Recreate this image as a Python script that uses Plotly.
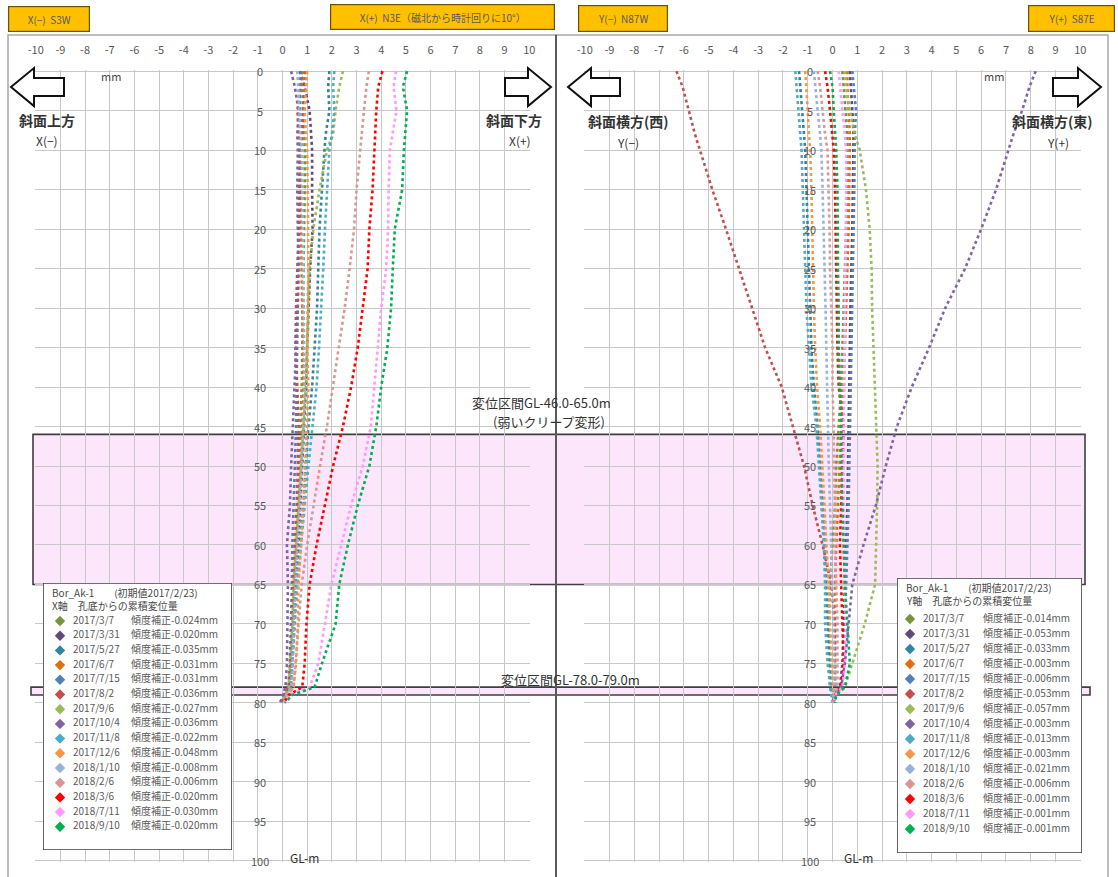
import plotly.graph_objects as go

W, H = 1118, 877

# ---------------- data ----------------
DEPTH = [0, 2, 5, 8, 10, 15, 20, 25, 30, 35, 40, 45, 50, 55, 60, 65, 70, 75, 78, 79, 80]
DEPTH_TICKS = list(range(0, 101, 5))
X_TICKS = list(range(-10, 11))
X_TICK_LABELS = [str(v) for v in X_TICKS]

DATES = ["2017/3/7", "2017/3/31", "2017/5/27", "2017/6/7", "2017/7/15", "2017/8/2",
         "2017/9/6", "2017/10/4", "2017/11/8", "2017/12/6", "2018/1/10", "2018/2/6",
         "2018/3/6", "2018/7/11", "2018/9/10"]
COLORS = ["#77933C", "#604A7B", "#31859C", "#E46C0A", "#4F81BD", "#C0504D",
          "#9BBB59", "#8064A2", "#4BACC6", "#F79646", "#95B3D7", "#D99694",
          "#FF0000", "#FF99FF", "#00B050"]
X_CORR = ["-0.024", "-0.020", "-0.035", "-0.031", "-0.031", "-0.036", "-0.027", "-0.036",
          "-0.022", "-0.048", "-0.008", "-0.006", "-0.020", "-0.030", "-0.020"]
Y_CORR = ["-0.014", "-0.053", "-0.033", "-0.003", "-0.006", "-0.053", "-0.057", "-0.003",
          "-0.013", "-0.003", "-0.021", "-0.006", "-0.001", "-0.001", "-0.001"]

# X axis (slope direction) cumulative displacement, mm
x_170307 = [0.80, 0.80, 0.85, 0.88, 0.90, 0.90, 0.88, 0.85, 0.82, 0.80, 0.78, 0.72, 0.65, 0.60, 0.52, 0.45, 0.42, 0.35, 0.30, 0.10, 0.00]
x_170331 = [0.70, 0.90, 1.10, 1.15, 1.20, 1.20, 1.22, 1.12, 1.05, 1.00, 0.95, 0.88, 0.80, 0.72, 0.62, 0.52, 0.45, 0.38, 0.30, 0.10, 0.00]
x_170527 = [1.90, 1.85, 1.90, 1.75, 1.70, 1.60, 1.50, 1.45, 1.40, 1.30, 1.20, 1.05, 0.95, 0.85, 0.70, 0.55, 0.45, 0.35, 0.30, 0.15, 0.05]
x_170607 = [0.90, 0.75, 0.60, 0.65, 0.70, 0.72, 0.75, 0.78, 0.80, 0.82, 0.85, 0.80, 0.72, 0.65, 0.58, 0.50, 0.48, 0.40, 0.35, 0.15, 0.00]
x_170715 = [0.75, 0.70, 0.72, 0.75, 0.70, 0.68, 0.65, 0.62, 0.62, 0.60, 0.58, 0.55, 0.50, 0.45, 0.40, 0.38, 0.35, 0.30, 0.25, 0.10, 0.00]
x_170802 = [0.95, 0.90, 0.85, 0.80, 0.75, 0.72, 0.65, 0.60, 0.55, 0.52, 0.60, 0.65, 0.62, 0.58, 0.50, 0.42, 0.38, 0.32, 0.25, 0.05, -0.05]
x_170906 = [2.45, 2.30, 2.15, 2.05, 1.80, 1.50, 1.25, 1.10, 1.05, 1.00, 0.95, 0.85, 0.75, 0.65, 0.55, 0.45, 0.40, 0.30, 0.25, 0.10, 0.00]
x_171004 = [0.35, 0.50, 0.65, 0.60, 0.62, 0.60, 0.62, 0.65, 0.62, 0.55, 0.48, 0.40, 0.35, 0.30, 0.18, 0.22, 0.20, 0.18, 0.12, 0.00, -0.10]
x_171108 = [2.10, 2.05, 2.10, 2.00, 1.90, 1.80, 1.72, 1.65, 1.58, 1.48, 1.38, 1.20, 1.05, 0.90, 0.75, 0.60, 0.50, 0.40, 0.35, 0.20, 0.05]
x_171206 = [1.00, 0.95, 0.90, 0.95, 1.00, 1.02, 1.05, 1.05, 1.02, 1.00, 1.05, 1.00, 0.92, 0.85, 0.75, 0.65, 0.62, 0.55, 0.45, 0.20, 0.05]
x_180110 = [0.60, 0.62, 0.68, 0.72, 0.78, 0.80, 0.82, 0.85, 0.88, 0.90, 0.90, 0.85, 0.78, 0.70, 0.60, 0.52, 0.45, 0.40, 0.35, 0.15, 0.05]
x_180206 = [3.50, 3.40, 3.30, 3.20, 3.15, 3.00, 2.90, 2.72, 2.52, 2.28, 2.05, 1.80, 1.52, 1.25, 1.00, 0.78, 0.65, 0.55, 0.45, 0.20, 0.05]
x_180306 = [4.05, 3.88, 3.80, 3.75, 3.72, 3.65, 3.52, 3.45, 3.25, 3.05, 2.78, 2.45, 2.05, 1.72, 1.38, 1.10, 0.97, 0.90, 0.80, 0.25, 0.05]
x_180711 = [4.60, 4.50, 4.62, 4.45, 4.35, 4.30, 4.28, 4.20, 4.00, 3.86, 3.72, 3.58, 3.25, 2.78, 2.38, 1.98, 1.72, 1.45, 1.10, 0.30, 0.05]
x_180910 = [5.05, 4.88, 5.05, 4.98, 4.92, 4.85, 4.55, 4.47, 4.40, 4.25, 4.00, 3.80, 3.52, 3.05, 2.65, 2.30, 2.15, 1.60, 1.30, 0.40, 0.10]

# Y axis (transverse direction) cumulative displacement, mm
y_170307 = [0.40, 0.45, 0.55, 0.60, 0.60, 0.60, 0.55, 0.50, 0.45, 0.40, 0.35, 0.25, 0.15, 0.10, 0.00, -0.10, -0.15, -0.10, -0.05, 0.00, 0.00]
y_170331 = [0.70, 0.75, 0.80, 0.85, 0.85, 0.82, 0.80, 0.75, 0.72, 0.70, 0.68, 0.65, 0.62, 0.60, 0.55, 0.50, 0.45, 0.40, 0.30, 0.10, 0.00]
y_170527 = [-1.35, -1.30, -1.20, -1.15, -1.10, -1.05, -1.00, -0.95, -0.90, -0.85, -0.75, -0.60, -0.50, -0.40, -0.30, -0.25, -0.20, -0.15, -0.10, 0.00, 0.00]
y_170607 = [0.60, 0.60, 0.65, 0.70, 0.70, 0.68, 0.65, 0.60, 0.55, 0.50, 0.45, 0.35, 0.28, 0.20, 0.15, 0.10, 0.10, 0.10, 0.10, 0.05, 0.00]
y_170715 = [0.80, 0.85, 0.95, 0.90, 0.90, 0.88, 0.85, 0.82, 0.80, 0.78, 0.75, 0.72, 0.70, 0.65, 0.60, 0.55, 0.50, 0.45, 0.35, 0.10, 0.00]
y_170802 = [-6.30, -6.05, -5.80, -5.55, -5.35, -4.85, -4.30, -3.78, -3.26, -2.72, -2.05, -1.60, -1.15, -0.80, -0.40, -0.05, 0.10, 0.10, 0.10, 0.05, 0.00]
y_170906 = [0.50, 0.55, 0.70, 0.90, 1.10, 1.35, 1.50, 1.58, 1.60, 1.65, 1.70, 1.75, 1.82, 1.80, 1.75, 1.72, 1.30, 0.80, 0.50, 0.15, 0.05]
y_171004 = [8.20, 7.95, 7.65, 7.30, 7.10, 6.60, 6.00, 5.35, 4.55, 3.90, 3.20, 2.60, 2.15, 1.75, 1.25, 0.80, 0.65, 0.50, 0.35, 0.10, 0.00]
y_171108 = [-1.50, -1.45, -1.35, -1.30, -1.25, -1.20, -1.15, -1.10, -1.05, -0.95, -0.85, -0.65, -0.55, -0.45, -0.35, -0.30, -0.30, -0.20, -0.10, -0.05, 0.00]
y_171206 = [-1.10, -1.05, -1.00, -0.95, -0.90, -0.85, -0.82, -0.80, -0.75, -0.70, -0.62, -0.50, -0.40, -0.32, -0.25, -0.15, -0.10, 0.00, 0.05, 0.05, 0.05]
y_180110 = [-0.75, -0.70, -0.60, -0.50, -0.45, -0.40, -0.35, -0.30, -0.28, -0.25, -0.22, -0.20, -0.15, -0.10, -0.05, 0.00, 0.05, 0.10, 0.10, 0.05, 0.00]
y_180206 = [-0.60, -0.50, -0.40, -0.30, -0.20, -0.15, -0.12, -0.10, -0.05, 0.00, 0.00, 0.05, 0.05, 0.10, 0.10, 0.15, 0.20, 0.20, 0.20, 0.10, 0.05]
y_180306 = [-0.30, -0.20, -0.10, 0.00, 0.05, 0.10, 0.12, 0.15, 0.15, 0.20, 0.25, 0.45, 0.40, 0.35, 0.30, 0.35, 0.40, 0.45, 0.35, 0.10, 0.05]
y_180711 = [0.25, 0.30, 0.40, 0.50, 0.55, 0.55, 0.55, 0.52, 0.50, 0.50, 0.48, 0.45, 0.45, 0.42, 0.45, 0.50, 0.55, 0.50, 0.40, 0.10, 0.05]
y_180910 = [-0.10, 0.00, 0.05, 0.10, 0.15, 0.20, 0.20, 0.22, 0.25, 0.25, 0.30, 0.35, 0.35, 0.40, 0.45, 0.50, 0.60, 0.70, 0.50, 0.15, 0.10]

X_VALUES = [x_170307, x_170331, x_170527, x_170607, x_170715, x_170802, x_170906, x_171004,
            x_171108, x_171206, x_180110, x_180206, x_180306, x_180711, x_180910]
Y_VALUES = [y_170307, y_170331, y_170527, y_170607, y_170715, y_170802, y_170906, y_171004,
            y_171108, y_171206, y_180110, y_180206, y_180306, y_180711, y_180910]

ZONE_MAIN = (46.0, 65.0)
ZONE_LOW = (78.0, 79.0)

# ---------------- helpers ----------------
FONT = "Noto Sans CJK JP, Noto Sans, sans-serif"


def px(x):
    return x / W


def py(y):
    return 1 - y / H


fig = go.Figure()

# data traces
for i in range(len(DATES)):
    fig.add_trace(go.Scatter(x=X_VALUES[i], y=DEPTH, mode="lines",
                             line=dict(color=COLORS[i], width=2.6, dash="dot"),
                             xaxis="x", yaxis="y", showlegend=False, hoverinfo="skip"))
    fig.add_trace(go.Scatter(x=Y_VALUES[i], y=DEPTH, mode="lines",
                             line=dict(color=COLORS[i], width=2.6, dash="dot"),
                             xaxis="x2", yaxis="y2", showlegend=False, hoverinfo="skip"))

# custom legends drawn in their own small axes
n = len(DATES)
LEG = [
    dict(ax="x3", ay="y3", w=189, h=267, y0=38, dy=14.7, mx=17, dx=30, cx=88,
         corr=X_CORR, t2="X軸　孔底からの累積変位量"),
    dict(ax="x4", ay="y4", w=185, h=275, y0=41, dy=15.0, mx=13, dx=26, cx=86,
         corr=Y_CORR, t2="Y軸　孔底からの累積変位量"),
]
for L in LEG:
    ys = [L["y0"] + k * L["dy"] for k in range(n)]
    fig.add_trace(go.Scatter(x=[L["mx"]] * n, y=ys, mode="markers",
                             marker=dict(symbol="diamond", size=8, color=COLORS),
                             xaxis=L["ax"], yaxis=L["ay"], showlegend=False, hoverinfo="skip"))
    fig.add_trace(go.Scatter(x=[L["dx"]] * n, y=ys, mode="text", text=DATES,
                             textposition="middle right",
                             textfont=dict(size=10, color="#5a5a5a", family=FONT),
                             xaxis=L["ax"], yaxis=L["ay"], showlegend=False, hoverinfo="skip"))
    fig.add_trace(go.Scatter(x=[L["cx"]] * n, y=ys, mode="text",
                             text=["傾度補正" + c + "mm" for c in L["corr"]],
                             textposition="middle right",
                             textfont=dict(size=10, color="#5a5a5a", family=FONT),
                             xaxis=L["ax"], yaxis=L["ay"], showlegend=False, hoverinfo="skip"))

# ---------------- axes ----------------
GRID = "#C8C8C8"
TICKF = dict(size=11, color="#585858", family=FONT)
ydom = [py(862), py(70)]


def xax(dom, anchor):
    return dict(domain=dom, anchor=anchor, range=[-10.03, 10.03], side="top",
                tickvals=X_TICKS, ticktext=X_TICK_LABELS, showgrid=True, gridcolor=GRID,
                gridwidth=1, zeroline=False, showline=False, ticks="", automargin=False,
                ticklabelstandoff=13, tickfont=TICKF, fixedrange=True)


def yax(anchor):
    return dict(domain=ydom, anchor=anchor, range=[100.15, -0.15], tickvals=DEPTH_TICKS,
                showticklabels=False, showgrid=True, gridcolor=GRID, gridwidth=1,
                automargin=False, zeroline=False, showline=False, ticks="", fixedrange=True)


fig.update_layout(
    width=W, height=H, autosize=False,
    margin=dict(l=0, r=0, t=0, b=0, pad=0, autoexpand=False),
    paper_bgcolor="white", plot_bgcolor="rgba(0,0,0,0)",
    font=dict(family=FONT, color="#333333"),
    showlegend=False,
    xaxis=xax([px(35), px(530)], "y"),
    yaxis=yax("x"),
    xaxis2=xax([px(584), px(1081)], "y2"),
    yaxis2=yax("x2"),
    xaxis3=dict(domain=[px(43), px(232)], anchor="y3", range=[0, 189], visible=False, fixedrange=True),
    yaxis3=dict(domain=[py(850), py(583)], anchor="x3", range=[267, 0], visible=False, fixedrange=True),
    xaxis4=dict(domain=[px(897), px(1082)], anchor="y4", range=[0, 185], visible=False, fixedrange=True),
    yaxis4=dict(domain=[py(853), py(578)], anchor="x4", range=[275, 0], visible=False, fixedrange=True),
)

# ---------------- shapes ----------------
shapes = []
BAND_FILL = "#FCE6FC"
BAND_LINE = "#3F3F3F"
shapes.append(dict(type="rect", xref="paper", yref="y", x0=px(33), x1=px(1085),
                   y0=ZONE_MAIN[0], y1=ZONE_MAIN[1], fillcolor=BAND_FILL,
                   line=dict(color=BAND_LINE, width=1.6), layer="below"))
shapes.append(dict(type="rect", xref="paper", yref="y", x0=px(31), x1=px(1090),
                   y0=ZONE_LOW[0], y1=ZONE_LOW[1], fillcolor=BAND_FILL,
                   line=dict(color=BAND_LINE, width=1.6), layer="below"))
# panel frames
shapes.append(dict(type="rect", xref="paper", yref="paper", x0=px(8), x1=px(556),
                   y0=py(879), y1=py(35), line=dict(color="#A8A8A8", width=1.5), layer="below"))
shapes.append(dict(type="rect", xref="paper", yref="paper", x0=px(556), x1=px(1108),
                   y0=py(879), y1=py(35), line=dict(color="#A8A8A8", width=1.5), layer="below"))
shapes.append(dict(type="line", xref="paper", yref="paper", x0=px(556), x1=px(556),
                   y0=py(879), y1=py(35), line=dict(color="#5A5A5A", width=2), layer="above"))


def arrow(tip, base, y_mid, direction):
    # hollow block arrow, direction -1 = left, +1 = right
    head = tip - direction * 23
    pts = [(tip, y_mid), (head, y_mid - 19), (head, y_mid - 9), (base, y_mid - 9),
           (base, y_mid + 9), (head, y_mid + 9), (head, y_mid + 19)]
    path = "M " + " L ".join(f"{px(a):.5f},{py(b):.5f}" for a, b in pts) + " Z"
    return dict(type="path", xref="paper", yref="paper", path=path, fillcolor="white",
                line=dict(color="#111111", width=2), layer="above")


shapes.append(arrow(11, 64, 87, -1))
shapes.append(arrow(551, 505, 87, 1))
shapes.append(arrow(568, 620, 87, -1))
shapes.append(arrow(1101, 1053, 87, 1))

# legend boxes (in legend axes, drawn over main grid)
shapes.append(dict(type="rect", xref="x3", yref="y3", x0=0, x1=189, y0=0, y1=267,
                   fillcolor="white", line=dict(color="#404040", width=1.6), layer="below"))
shapes.append(dict(type="rect", xref="x4", yref="y4", x0=0, x1=185, y0=0, y1=275,
                   fillcolor="white", line=dict(color="#404040", width=1.6), layer="below"))
fig.update_layout(shapes=shapes)

# ---------------- annotations ----------------
ann = []
for d in DEPTH_TICKS:
    ann.append(dict(x=-1, y=d, xref="x", yref="y", text=str(d), showarrow=False,
                    font=TICKF, xanchor="center", yanchor="middle", xshift=2))
    ann.append(dict(x=-1, y=d, xref="x2", yref="y2", text=str(d), showarrow=False,
                    font=TICKF, xanchor="center", yanchor="middle", xshift=2))


def label(x, y, text, size=12, color="#333333", **kw):
    d = dict(x=px(x), y=py(y), xref="paper", yref="paper", text=text, showarrow=False,
             font=dict(size=size, color=color, family=FONT), xanchor="center", yanchor="middle")
    d.update(kw)
    return d


def header(x0, x1, y0, y1, text):
    return dict(x=px((x0 + x1) / 2), y=py((y0 + y1) / 2), xref="paper", yref="paper",
                text=text, showarrow=False, width=x1 - x0 - 2, height=y1 - y0 - 2,
                bgcolor="#FFC000", bordercolor="#6B5200", borderwidth=1.2, borderpad=0,
                font=dict(size=10, color="#5a5a5a", family=FONT), xanchor="center", yanchor="middle")


ann.append(header(8, 90, 6, 32, "X(−)  S3W"))
ann.append(header(330, 555, 4, 30, "X(+)  N3E（磁北から時計回りに10°）"))
ann.append(header(578, 668, 5, 32, "Y(−)  N87W"))
ann.append(header(1028, 1115, 5, 32, "Y(+)  S87E"))

ann.append(label(111, 76, "mm", 11, "#444444"))
ann.append(label(994, 76, "mm", 11, "#444444"))
ann.append(label(47, 120, "<b>斜面上方</b>", 14))
ann.append(label(47, 141, "X(−)", 12))
ann.append(label(514, 120, "<b>斜面下方</b>", 14))
ann.append(label(520, 141, "X(+)", 12))
ann.append(label(628, 121, "<b>斜面横方(西)</b>", 14))
ann.append(label(628, 142, "Y(−)", 12))
ann.append(label(1052, 121, "<b>斜面横方(東)</b>", 14))
ann.append(label(1058, 142, "Y(+)", 12))
ann.append(label(304, 857, "GL-m", 12))
ann.append(label(858, 857, "GL-m", 12))
ann.append(label(541, 402, f"変位区間GL-{ZONE_MAIN[0]:.1f}-{ZONE_MAIN[1]:.1f}m", 13))
ann.append(label(549, 421, "(弱いクリープ変形)", 13))
ann.append(label(570, 679, f"変位区間GL-{ZONE_LOW[0]:.1f}-{ZONE_LOW[1]:.1f}m", 13))

# legend titles
for L in LEG:
    ann.append(dict(x=7, y=9, xref=L["ax"], yref=L["ay"], text="Bor_Ak-1　　(初期値2017/2/23)",
                    showarrow=False, xanchor="left", yanchor="middle",
                    font=dict(size=10, color="#4a4a4a", family=FONT)))
    ann.append(dict(x=7, y=22, xref=L["ax"], yref=L["ay"], text=L["t2"],
                    showarrow=False, xanchor="left", yanchor="middle",
                    font=dict(size=10, color="#4a4a4a", family=FONT)))

fig.update_layout(annotations=ann)

fig.write_html("out.html", config={"responsive": False, "displayModeBar": False},
               post_script="document.body.style.margin='0';document.body.style.overflow='hidden';")
